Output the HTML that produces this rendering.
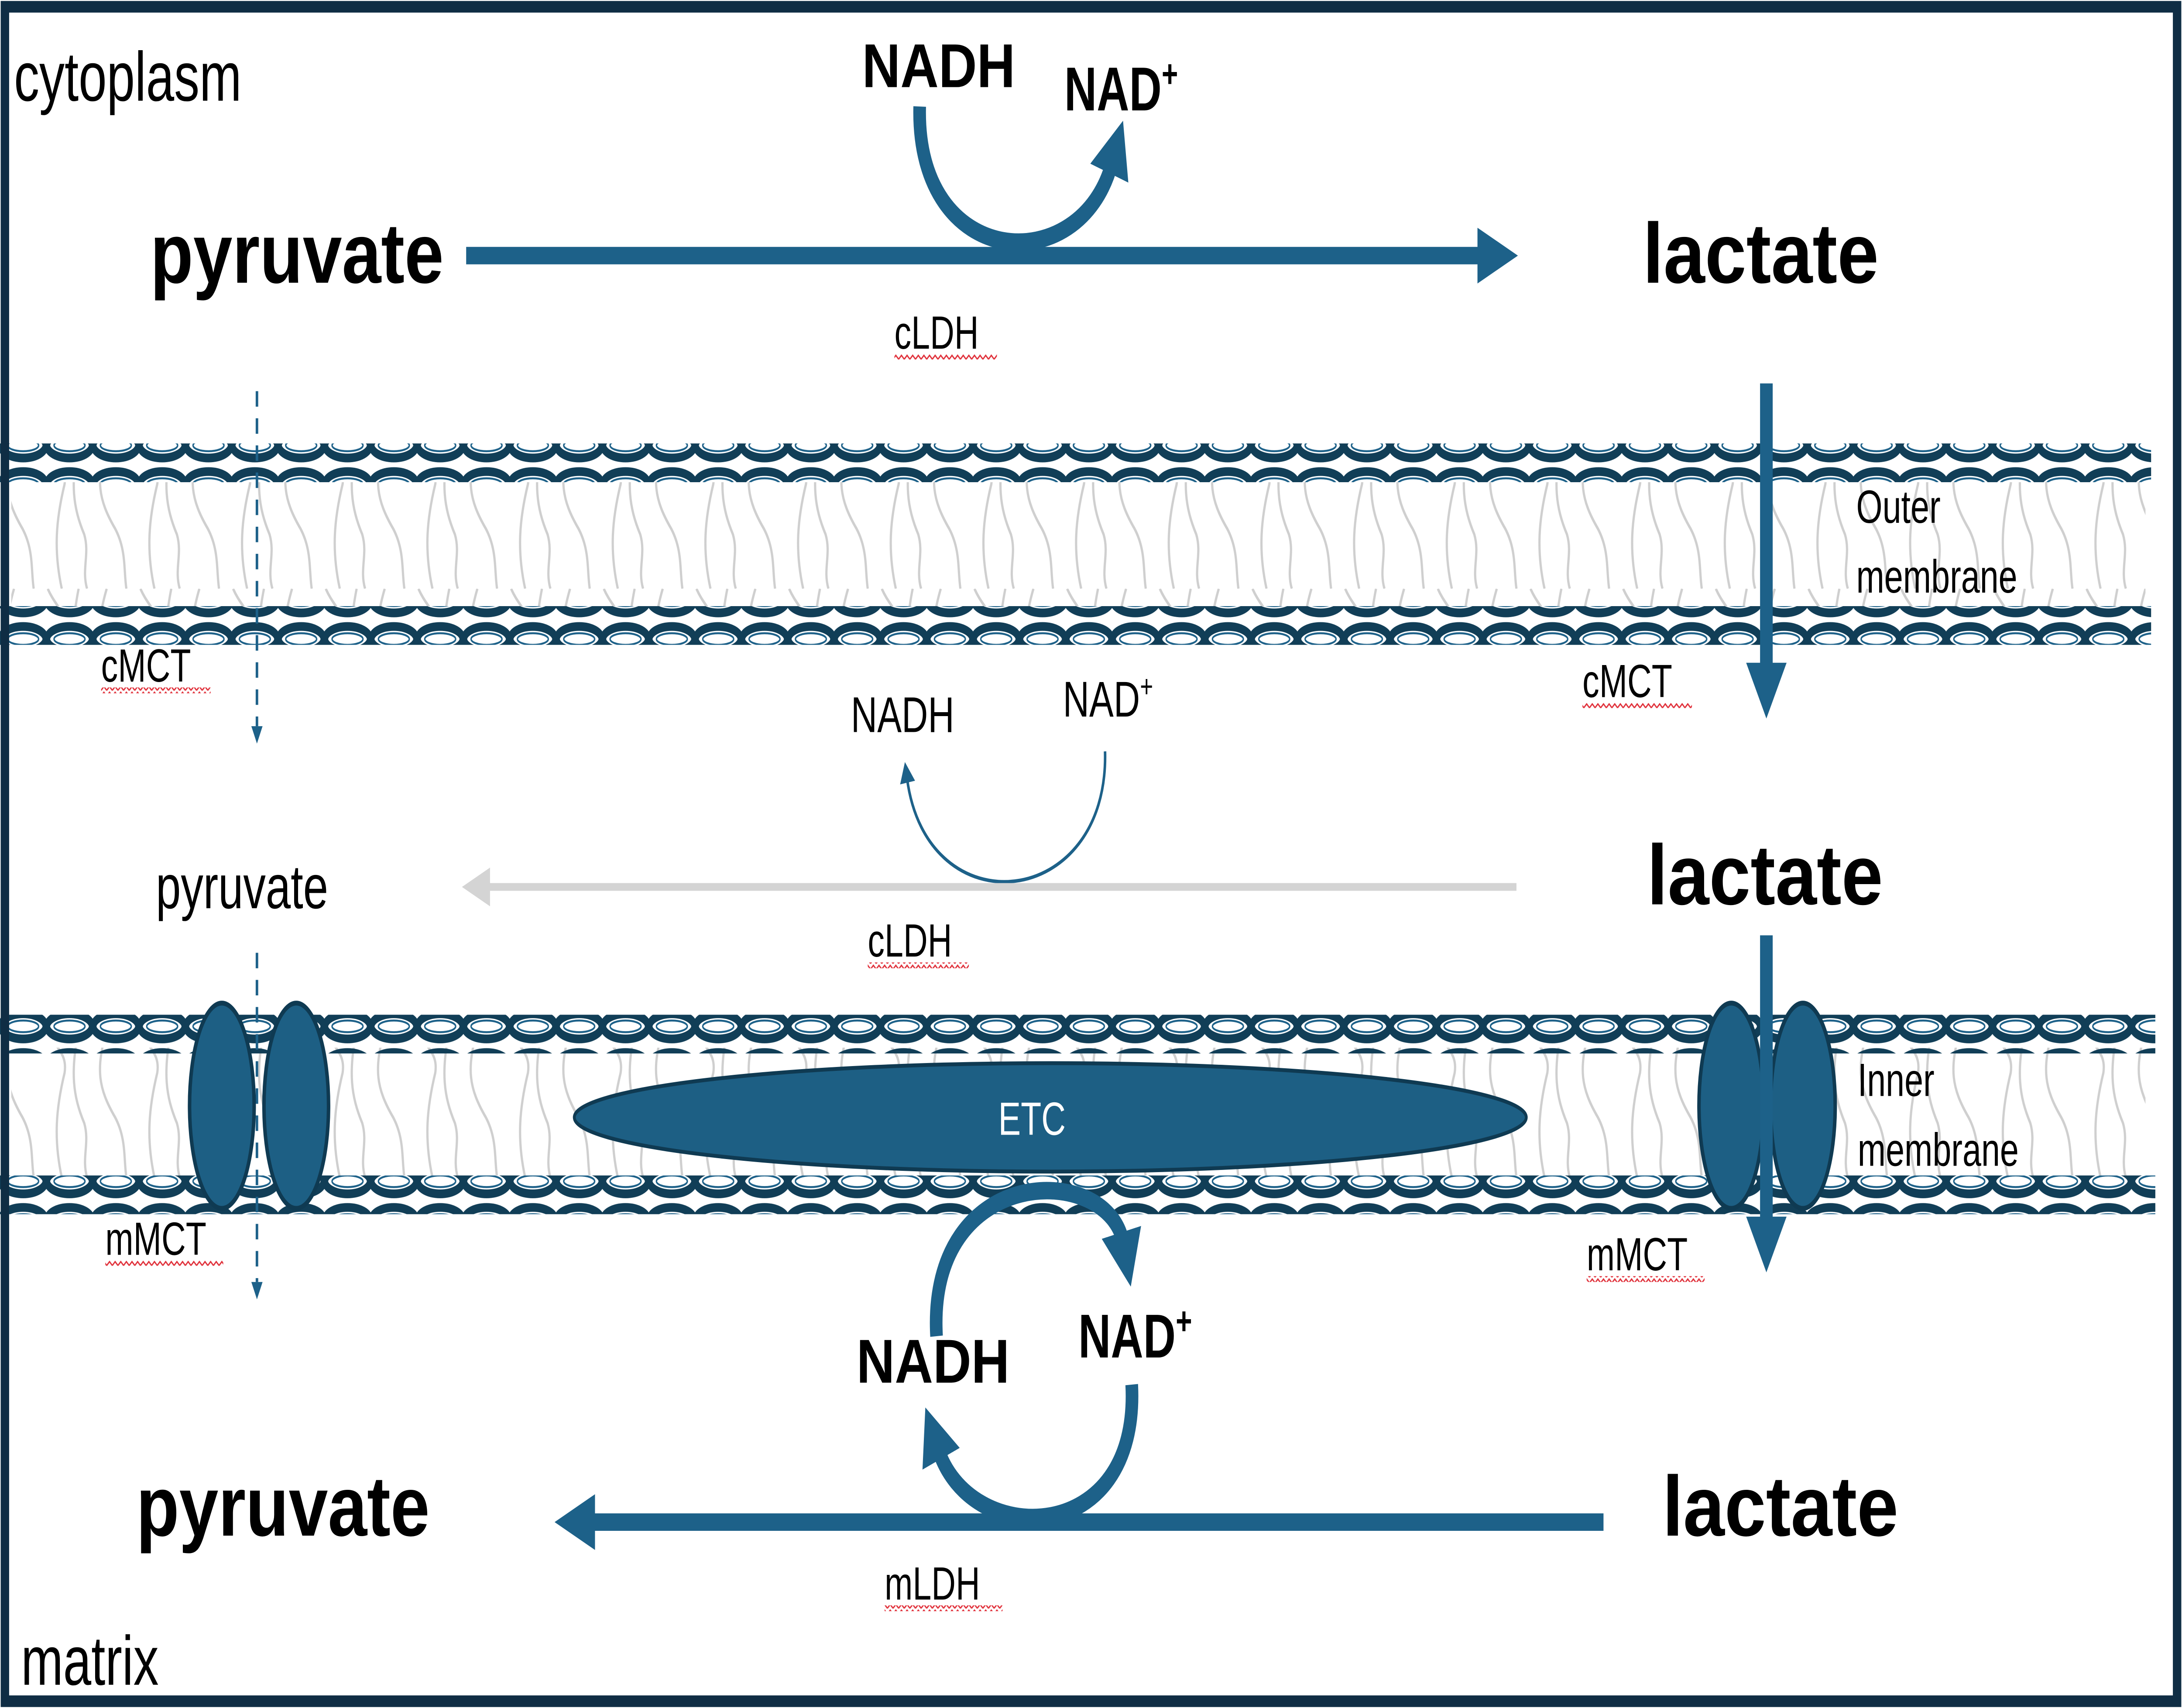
<!DOCTYPE html>
<html><head><meta charset="utf-8"><style>
html,body{margin:0;padding:0;background:#fff;width:100%;height:100%;overflow:hidden;}
svg{display:block;position:absolute;left:0;top:0;width:100vw;height:100vh;}
text{font-family:"Liberation Sans",sans-serif;fill:#000;}
.b{font-weight:bold;}
</style></head><body>
<svg viewBox="0 0 1554 882" preserveAspectRatio="none" xmlns="http://www.w3.org/2000/svg">
<defs>
<pattern id="chain" x="0" y="0" width="33" height="20" patternUnits="userSpaceOnUse">
<ellipse cx="16.5" cy="10" rx="16" ry="6.5" fill="#fff" stroke="#113e57" stroke-width="4.5"/>
<ellipse cx="16.5" cy="10" rx="11" ry="3" fill="none" stroke="#1d6189" stroke-width="1"/>
</pattern>
<pattern id="lipid" x="0" y="0" width="66" height="76" patternUnits="userSpaceOnUse">
<path d="M10,0 C2,20 4,30 16,45 C24,56 22,66 24,76" fill="none" stroke="#cfcfcf" stroke-width="1.6"/>
<path d="M34,0 C40,10 48,12 46,22 C40,40 38,56 44,76" fill="none" stroke="#cfcfcf" stroke-width="1.6"/>
<path d="M56,0 C50,22 52,34 60,48 C64,58 58,66 62,76" fill="none" stroke="#cfcfcf" stroke-width="1.6"/>
</pattern>
<pattern id="sq" x="0" y="0" width="4" height="3" patternUnits="userSpaceOnUse">
<path d="M0,2.5 L2,0.5 L4,2.5" fill="none" stroke="#e0303a" stroke-width="0.8"/>
</pattern>
<marker id="ah" viewBox="0 0 10 10" refX="2" refY="5" markerWidth="3.2" markerHeight="3.2" orient="auto">
<path d="M0,0 L10,5 L0,10 z" fill="#1d6189"/>
</marker>
<marker id="ahs" viewBox="0 0 10 10" refX="2" refY="5" markerWidth="6" markerHeight="6" orient="auto">
<path d="M0,0 L10,5 L0,10 z" fill="#1d6189"/>
</marker>
<marker id="ahg" viewBox="0 0 10 10" refX="2" refY="5" markerWidth="5" markerHeight="5" orient="auto">
<path d="M0,0 L10,5 L0,10 z" fill="#d4d4d4"/>
</marker>
</defs>
<rect x="0" y="0" width="1554" height="882" fill="#fff"/>

<rect x="8" y="246" width="1520" height="70" fill="url(#lipid)"/>
<rect x="8" y="541" width="1520" height="70" fill="url(#lipid)"/>
<rect x="0" y="229" width="1532" height="20" fill="url(#chain)"/>
<rect x="0" y="313" width="1532" height="20" fill="url(#chain)"/>
<rect x="0" y="524" width="1535" height="20" fill="url(#chain)"/>
<rect x="0" y="607" width="1535" height="20" fill="url(#chain)"/>

<rect x="3.5" y="3.5" width="1547" height="875" fill="none" stroke="#0f2d44" stroke-width="6"/>

<text x="10" y="52" font-size="36">cytoplasm</text>
<text x="107" y="146" font-size="44" class="b" textLength="209" lengthAdjust="spacingAndGlyphs">pyruvate</text>
<line x1="332" y1="132" x2="1058" y2="132" stroke="#1d6189" stroke-width="9" marker-end="url(#ah)"/>
<text x="1170" y="146" font-size="44" class="b" textLength="168" lengthAdjust="spacingAndGlyphs">lactate</text>
<text x="614" y="45" font-size="32" class="b" textLength="109" lengthAdjust="spacingAndGlyphs">NADH</text>
<text x="758" y="57" font-size="32" class="b">NAD<tspan font-size="20" dy="-12">+</tspan></text>
<path d="M655,55 C652,140 770,145 792,84" fill="none" stroke="#1d6189" stroke-width="9" marker-end="url(#ah)"/>
<text x="637" y="180" font-size="24">cLDH</text>
<rect x="637" y="183" width="73" height="3" fill="url(#sq)"/>

<line x1="183" y1="202" x2="183" y2="375" stroke="#1d6189" stroke-width="1.8" stroke-dasharray="8,6"/>
<path d="M179,375 L183,384 L187,375 z" fill="#1d6189"/>
<text x="72" y="352" font-size="24">cMCT</text>
<rect x="72" y="355" width="78" height="3" fill="url(#sq)"/>

<line x1="1258" y1="198" x2="1258" y2="348" stroke="#1d6189" stroke-width="9" marker-end="url(#ah)"/>
<text x="1322" y="270" font-size="24">Outer</text>
<text x="1322" y="306" font-size="24">membrane</text>
<text x="1127" y="360" font-size="24">cMCT</text>
<rect x="1127" y="363" width="78" height="3" fill="url(#sq)"/>

<text x="606" y="378" font-size="26">NADH</text>
<text x="757" y="370" font-size="26">NAD<tspan font-size="16" dy="-10">+</tspan></text>
<path d="M787,388 C790,470 660,480 646,402" fill="none" stroke="#1d6189" stroke-width="1.8" marker-end="url(#ahs)"/>
<line x1="1080" y1="458" x2="345" y2="458" stroke="#d4d4d4" stroke-width="4" marker-end="url(#ahg)"/>
<text x="111" y="469" font-size="32">pyruvate</text>
<text x="1173" y="467" font-size="44" class="b" textLength="168" lengthAdjust="spacingAndGlyphs">lactate</text>
<text x="618" y="494" font-size="24">cLDH</text>
<rect x="618" y="497" width="72" height="3" fill="url(#sq)"/>

<line x1="183" y1="492" x2="183" y2="662" stroke="#1d6189" stroke-width="1.8" stroke-dasharray="8,6"/>
<path d="M179,662 L183,671 L187,662 z" fill="#1d6189"/>

<ellipse cx="158" cy="571" rx="23" ry="53" fill="#1d5f84" stroke="#0f3a52" stroke-width="2.5"/>
<ellipse cx="211" cy="571" rx="23" ry="53" fill="#1d5f84" stroke="#0f3a52" stroke-width="2.5"/>
<ellipse cx="1233" cy="571" rx="23" ry="53" fill="#1d5f84" stroke="#0f3a52" stroke-width="2.5"/>
<ellipse cx="1284" cy="571" rx="23" ry="53" fill="#1d5f84" stroke="#0f3a52" stroke-width="2.5"/>

<ellipse cx="748" cy="577" rx="339" ry="28" fill="#1d5f84" stroke="#0f3a52" stroke-width="2"/>
<text x="711" y="586" font-size="24" style="fill:#fff">ETC</text>

<line x1="1258" y1="483" x2="1258" y2="634" stroke="#1d6189" stroke-width="9" marker-end="url(#ah)"/>
<text x="1323" y="566" font-size="24">Inner</text>
<text x="1323" y="602" font-size="24">membrane</text>
<text x="75" y="648" font-size="24">mMCT</text>
<rect x="75" y="651" width="84" height="3" fill="url(#sq)"/>
<text x="1130" y="656" font-size="24">mMCT</text>
<rect x="1130" y="659" width="84" height="3" fill="url(#sq)"/>

<text x="610" y="714" font-size="32" class="b" textLength="109" lengthAdjust="spacingAndGlyphs">NADH</text>
<text x="768" y="701" font-size="32" class="b">NAD<tspan font-size="20" dy="-12">+</tspan></text>
<path d="M667,690 C660,600 790,600 800,642" fill="none" stroke="#1d6189" stroke-width="9" marker-end="url(#ah)"/>
<path d="M806,715 C812,800 690,800 668,748" fill="none" stroke="#1d6189" stroke-width="9" marker-end="url(#ah)"/>

<text x="97" y="793" font-size="44" class="b" textLength="209" lengthAdjust="spacingAndGlyphs">pyruvate</text>
<line x1="1142" y1="786" x2="418" y2="786" stroke="#1d6189" stroke-width="9" marker-end="url(#ah)"/>
<text x="1184" y="793" font-size="44" class="b" textLength="168" lengthAdjust="spacingAndGlyphs">lactate</text>
<text x="630" y="826" font-size="24">mLDH</text>
<rect x="630" y="829" width="84" height="3" fill="url(#sq)"/>
<text x="15" y="870" font-size="36">matrix</text>
</svg>
</body></html>
